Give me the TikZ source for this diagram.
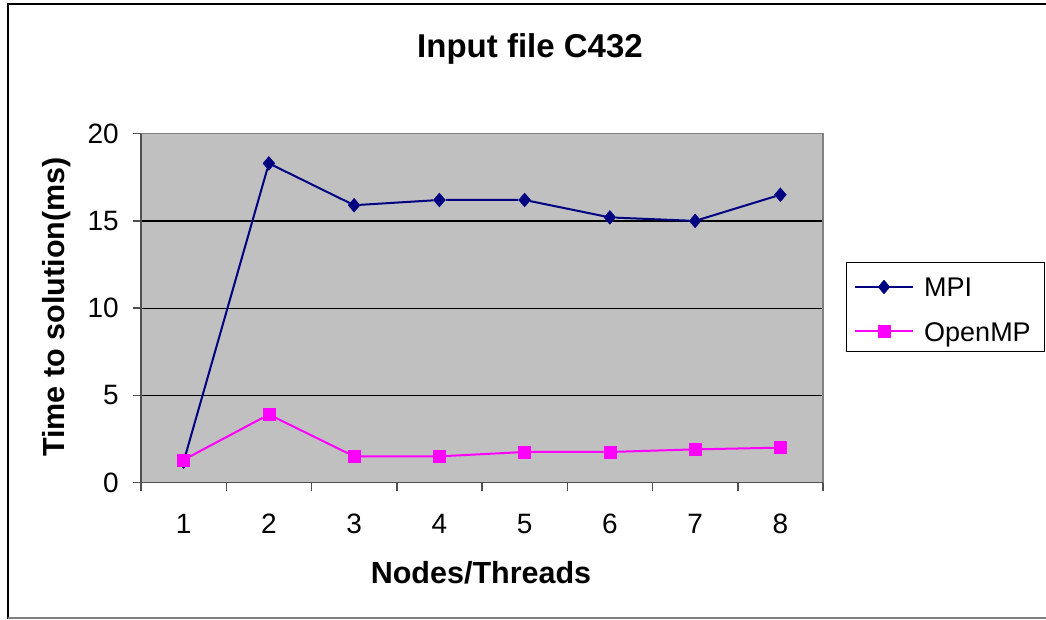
\documentclass[tikz,border=0pt]{standalone}
\usepackage{fontspec}
\setmainfont{Liberation Sans}
\usetikzlibrary{shapes.geometric}
\definecolor{mpiblue}{RGB}{0,0,128}
\definecolor{omppink}{RGB}{255,0,255}
\definecolor{plotgray}{RGB}{192,192,192}
\definecolor{axisgray}{RGB}{128,128,128}
\definecolor{axisdark}{RGB}{80,80,80}
\tikzset{
	MPIStyle/.style = {draw=mpiblue,fill=mpiblue,shape=diamond,minimum width=12pt,minimum height=14pt,inner sep=0pt},
	OMPStyle/.style = {draw=omppink,fill=omppink,shape=rectangle,minimum size=12pt,inner sep=0pt},
	MPILine/.style = {draw=mpiblue,line width=2pt},
	OMPLine/.style = {draw=omppink,line width=2pt},
	AxisStyle/.style = {draw=axisdark,line width=1.5pt},
	GridStyle/.style = {draw=black,line width=1.2pt},
	TickLabel/.style = {inner sep=0pt,font=\fontsize{28}{28}\selectfont},
	LegendLabel/.style = {inner sep=0pt,anchor=base west,font=\fontsize{27}{27}\selectfont},
	TitleStyle/.style = {inner sep=0pt,anchor=base,font=\fontsize{33}{33}\selectfont\bfseries},
	AxisLabel/.style = {inner sep=0pt,anchor=base,font=\fontsize{30.5}{30.5}\selectfont\bfseries}
}
\begin{document}
\begin{tikzpicture}[x=1pt,y=-1pt]
	\useasboundingbox (0,0) rectangle (1046,619);
	% chart frame
	\draw[line width=2pt] (7.5,619) -- (7.5,4) -- (1046,4);
	\draw[axisgray,line width=1.5pt] (7.5,618) -- (1046,618);
	% title and axis labels
	\node[TitleStyle] (title) at (530,57) {Input file C432};
	\node[AxisLabel] (xlabel) at (481,583) {Nodes/Threads};
	\node[AxisLabel,rotate=90] (ylabel) at (64,307) {Time to solution(ms)};
	% plot area
	\begin{scope}[shift={(141,482.5)},x=85.25pt,y=17.44pt]
		\fill[plotgray] (0,0) rectangle (8,20);
		\draw[GridStyle] (0,5) -- (8,5) (0,10) -- (8,10) (0,15) -- (8,15);
		\draw[axisgray,line width=1.5pt] (0,20) -- (8,20) -- (8,0);
		\draw[AxisStyle] (0,20) -- (0,0) -- (8,0);
		\draw[AxisStyle] (0,0) -- ++(-8pt,0) (0,5) -- ++(-8pt,0) (0,10) -- ++(-8pt,0)
			(0,15) -- ++(-8pt,0) (0,20) -- ++(-8pt,0);
		\draw[AxisStyle] (0,0) -- ++(0,-8pt) (1,0) -- ++(0,-8pt) (2,0) -- ++(0,-8pt)
			(3,0) -- ++(0,-8pt) (4,0) -- ++(0,-8pt) (5,0) -- ++(0,-8pt)
			(6,0) -- ++(0,-8pt) (7,0) -- ++(0,-8pt) (8,0) -- ++(0,-8pt);
		% y ticks
		\node[TickLabel,anchor=east] (y0) at ([xshift=-22pt]0,0) {0};
		\node[TickLabel,anchor=east] (y5) at ([xshift=-22pt]0,5) {5};
		\node[TickLabel,anchor=east] (y10) at ([xshift=-22pt]0,10) {10};
		\node[TickLabel,anchor=east] (y15) at ([xshift=-22pt]0,15) {15};
		\node[TickLabel,anchor=east] (y20) at ([xshift=-22pt]0,20) {20};
		% x ticks
		\node[TickLabel,anchor=base] (x1) at ([yshift=-50.5pt]0.5,0) {1};
		\node[TickLabel,anchor=base] (x2) at ([yshift=-50.5pt]1.5,0) {2};
		\node[TickLabel,anchor=base] (x3) at ([yshift=-50.5pt]2.5,0) {3};
		\node[TickLabel,anchor=base] (x4) at ([yshift=-50.5pt]3.5,0) {4};
		\node[TickLabel,anchor=base] (x5) at ([yshift=-50.5pt]4.5,0) {5};
		\node[TickLabel,anchor=base] (x6) at ([yshift=-50.5pt]5.5,0) {6};
		\node[TickLabel,anchor=base] (x7) at ([yshift=-50.5pt]6.5,0) {7};
		\node[TickLabel,anchor=base] (x8) at ([yshift=-50.5pt]7.5,0) {8};
		% MPI
		\node[MPIStyle] (M1) at (0.5,1.2) {};
		\node[MPIStyle] (M2) at (1.5,18.3) {};
		\node[MPIStyle] (M3) at (2.5,15.9) {};
		\node[MPIStyle] (M4) at (3.5,16.2) {};
		\node[MPIStyle] (M5) at (4.5,16.2) {};
		\node[MPIStyle] (M6) at (5.5,15.2) {};
		\node[MPIStyle] (M7) at (6.5,15.0) {};
		\node[MPIStyle] (M8) at (7.5,16.5) {};
		\draw[MPILine] (M1) -- (M2) -- (M3) -- (M4) -- (M5) -- (M6) -- (M7) -- (M8);
		% OpenMP
		\node[OMPStyle] (O1) at (0.5,1.3) {};
		\node[OMPStyle] (O2) at (1.5,3.9) {};
		\node[OMPStyle] (O3) at (2.5,1.5) {};
		\node[OMPStyle] (O4) at (3.5,1.5) {};
		\node[OMPStyle] (O5) at (4.5,1.75) {};
		\node[OMPStyle] (O6) at (5.5,1.75) {};
		\node[OMPStyle] (O7) at (6.5,1.9) {};
		\node[OMPStyle] (O8) at (7.5,2.0) {};
		\draw[OMPLine] (O1) -- (O2) -- (O3) -- (O4) -- (O5) -- (O6) -- (O7) -- (O8);
	\end{scope}
	% legend
	\draw[black,line width=1pt] (846,262) rectangle (1044,351);
	\coordinate (lm1) at (855,287);
	\coordinate (lm2) at (913,287);
	\coordinate (lo1) at (855,331);
	\coordinate (lo2) at (913,331);
	\draw[MPILine] (lm1) -- (lm2);
	\node[MPIStyle] (legMPI) at (884,287) {};
	\draw[OMPLine] (lo1) -- (lo2);
	\node[OMPStyle] (legOMP) at (884,331) {};
	\node[LegendLabel] (txtMPI) at (924,296) {MPI};
	\node[LegendLabel] (txtOMP) at (924,341) {OpenMP};
\end{tikzpicture}
\end{document}
